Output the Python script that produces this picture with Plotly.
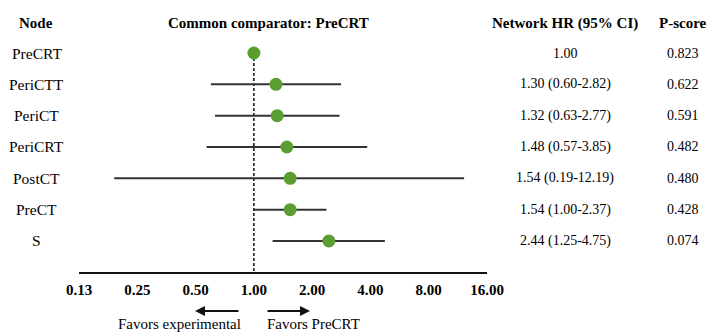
import plotly.graph_objects as go
import math

nodes = ["PreCRT", "PeriCTT", "PeriCT", "PeriCRT", "PostCT", "PreCT", "S"]
hr = [1.00, 1.30, 1.32, 1.48, 1.54, 1.54, 2.44]
ci_low = [None, 0.60, 0.63, 0.57, 0.19, 1.00, 1.25]
ci_high = [None, 2.82, 2.77, 3.85, 12.19, 2.37, 4.75]
hr_text = ["1.00", "1.30 (0.60-2.82)", "1.32 (0.63-2.77)", "1.48 (0.57-3.85)",
           "1.54 (0.19-12.19)", "1.54 (1.00-2.37)", "2.44 (1.25-4.75)"]
pscore = ["0.823", "0.622", "0.591", "0.482", "0.480", "0.428", "0.074"]
tick_vals = [0.125, 0.25, 0.5, 1, 2, 4, 8, 16]
tick_text = ["0.13", "0.25", "0.50", "1.00", "2.00", "4.00", "8.00", "16.00"]

W, H = 707, 333
FONT = "Liberation Serif, Times New Roman, serif"
GREEN = "#5A9E32"
LINE = "#333333"

rows = list(range(len(nodes)))

# CI lines
lx, ly = [], []
for i, (lo, hi) in enumerate(zip(ci_low, ci_high)):
    if lo is None:
        continue
    lx += [lo, hi, None]
    ly += [i, i, None]

fig = go.Figure()
fig.add_trace(go.Scatter(x=lx, y=ly, mode="lines",
                         line=dict(color=LINE, width=2), hoverinfo="skip",
                         showlegend=False))
fig.add_trace(go.Scatter(x=hr, y=rows, mode="markers",
                         marker=dict(color=GREEN, size=13, line=dict(width=0)),
                         showlegend=False, cliponaxis=False))

# dashed reference line at HR = 1
fig.add_shape(type="line", x0=1, x1=1, y0=0, y1=7.0, xref="x", yref="y",
              line=dict(color="#111111", width=1.5, dash="3px,2px"), layer="below")

# pixel geometry
row0_px, row_step = 53.0, 31.33
axis_px = 272.0
a = -row0_px / row_step
b = a + axis_px / row_step

def px_x(p):
    return p / W

def px_y(p):
    return 1 - p / H

annotations = []
# headers
for txt, xp in [("Node", 36), ("Common comparator: PreCRT", 268),
                ("Network HR (95% CI)", 565), ("P-score", 683)]:
    annotations.append(dict(x=px_x(xp), y=px_y(23), xref="paper", yref="paper",
                            text="<b>%s</b>" % txt, showarrow=False,
                            xanchor="center", yanchor="middle",
                            font=dict(family=FONT, size=15, color="#000")))
# row text
for i in rows:
    annotations.append(dict(x=px_x(36.5), y=i, xref="paper", yref="y",
                            text=nodes[i], showarrow=False, xanchor="center",
                            yanchor="middle", font=dict(family=FONT, size=15.5, color="#000")))
    annotations.append(dict(x=px_x(565), y=i, xref="paper", yref="y",
                            text=hr_text[i], showarrow=False, xanchor="center",
                            yanchor="middle", font=dict(family=FONT, size=14, color="#000")))
    annotations.append(dict(x=px_x(683), y=i, xref="paper", yref="y",
                            text=pscore[i], showarrow=False, xanchor="center",
                            yanchor="middle", font=dict(family=FONT, size=14, color="#000")))
# arrows
annotations.append(dict(x=px_x(195), y=px_y(311), xref="paper", yref="paper",
                        ax=45, ay=0, text="", showarrow=True, arrowhead=2,
                        arrowsize=1, arrowwidth=2, arrowcolor="#111"))
annotations.append(dict(x=px_x(310), y=px_y(311), xref="paper", yref="paper",
                        ax=-44, ay=0, text="", showarrow=True, arrowhead=2,
                        arrowsize=1, arrowwidth=2, arrowcolor="#111"))
annotations.append(dict(x=px_x(179), y=px_y(324), xref="paper", yref="paper",
                        text="Favors experimental", showarrow=False,
                        xanchor="center", yanchor="middle", borderpad=0,
                        font=dict(family=FONT, size=15, color="#000")))
annotations.append(dict(x=px_x(313), y=px_y(324), xref="paper", yref="paper",
                        text="Favors PreCRT", showarrow=False,
                        xanchor="center", yanchor="middle", borderpad=0,
                        font=dict(family=FONT, size=15, color="#000")))

fig.update_layout(
    width=W, height=H,
    margin=dict(l=0, r=0, t=0, b=0, pad=0, autoexpand=False),
    paper_bgcolor="white", plot_bgcolor="white",
    annotations=annotations,
    xaxis=dict(type="log", domain=[79 / W, 487 / W],
               range=[math.log10(0.125), math.log10(16)],
               tickmode="array", tickvals=tick_vals,
               ticktext=["<b>%s</b>" % t for t in tick_text],
               showgrid=False, zeroline=False, showline=True,
               linecolor="#111", linewidth=1.5,
               ticks="outside", ticklen=3, tickcolor="rgba(0,0,0,0)",
               tickfont=dict(family=FONT, size=15, color="#000"),
               anchor="y", automargin=False),
    yaxis=dict(domain=[(H - axis_px) / H, 1], range=[b, a],
               showgrid=False, zeroline=False, showline=False,
               showticklabels=False, ticks="", automargin=False),
)

fig.write_html("out.html", config={"displayModeBar": False},
               post_script="document.body.style.margin='0';document.body.style.overflow='hidden';")
